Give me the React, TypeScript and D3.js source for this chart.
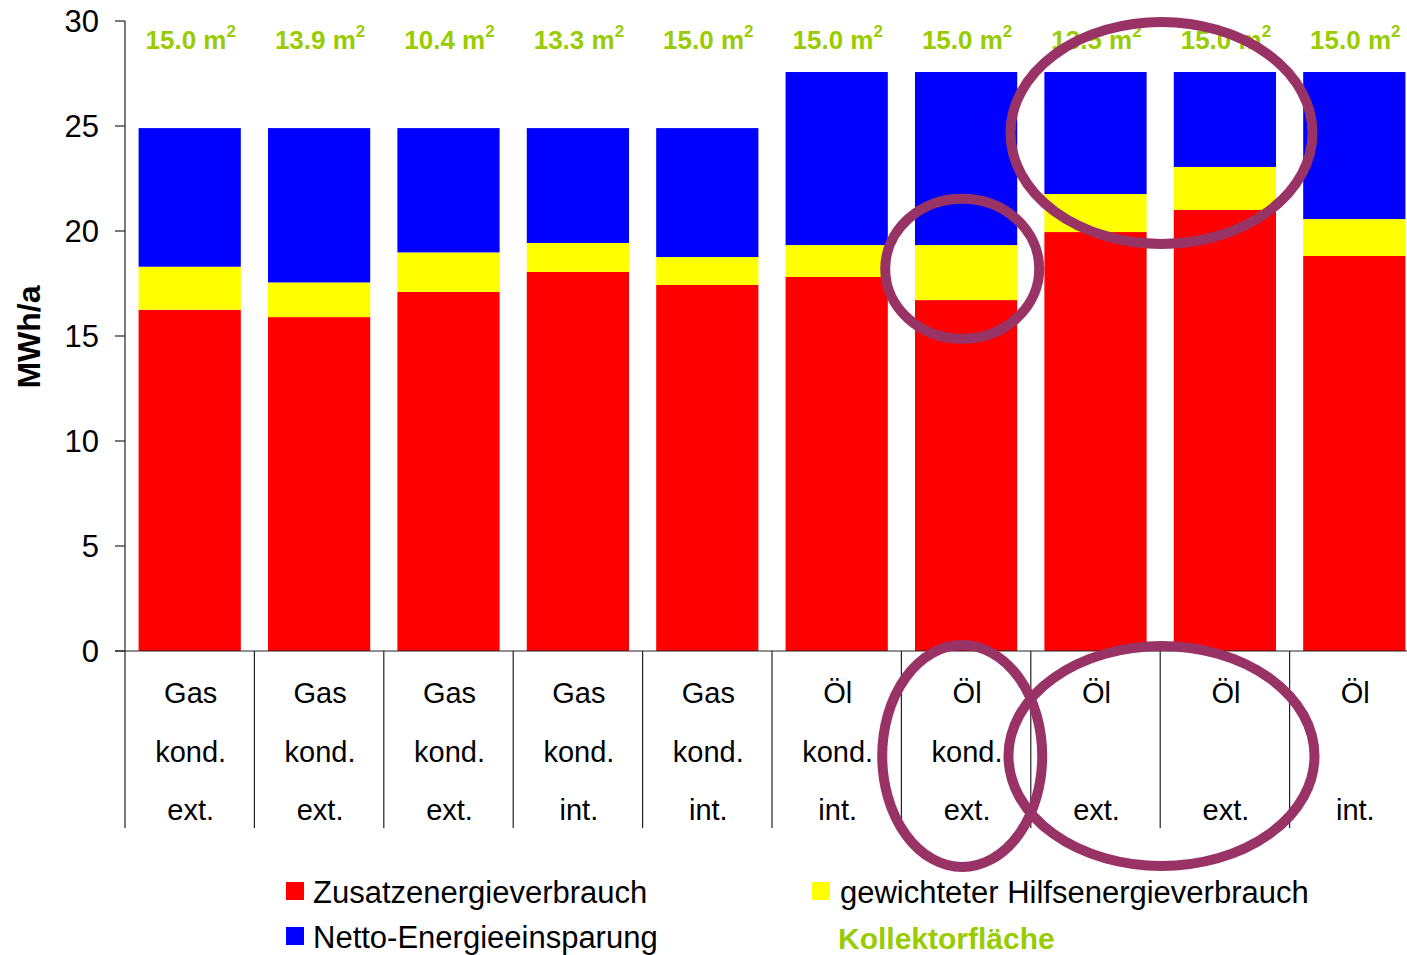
import * as d3 from 'd3';

const FUEL = ['Gas', 'Gas', 'Gas', 'Gas', 'Gas', 'Öl', 'Öl', 'Öl', 'Öl', 'Öl'];
const KOND = ['kond.', 'kond.', 'kond.', 'kond.', 'kond.', 'kond.', 'kond.', '', '', ''];
const MOUNT = ['ext.', 'ext.', 'ext.', 'int.', 'int.', 'int.', 'ext.', 'ext.', 'ext.', 'int.'];
const AREA = ['15.0', '13.9', '10.4', '13.3', '15.0', '15.0', '15.0', '13.5', '15.0', '15.0'];

const ZUSATZ = [16.25, 15.9, 17.1, 18.05, 17.43, 17.81, 16.71, 19.95, 21.0, 18.81];
const HILFS = [2.05, 1.65, 1.88, 1.38, 1.33, 1.52, 2.62, 1.81, 2.05, 1.76];
const NETTO = [6.6, 7.35, 5.92, 5.47, 6.14, 8.24, 8.24, 5.81, 4.52, 7.0];

const Y_TICKS = [0, 5, 10, 15, 20, 25, 30];

const SERIES = [
  { name: 'Zusatzenergieverbrauch', values: ZUSATZ, color: '#ff0000' },
  { name: 'gewichteter Hilfsenergieverbrauch', values: HILFS, color: '#ffff00' },
  { name: 'Netto-Energieeinsparung', values: NETTO, color: '#0000ff' },
];

// highlight ellipses: position along the category axis (in bands) and value
const RINGS = [
  { pos: 6.47, value: 18.2, rx: 77, ry: 70 },
  { pos: 8.01, value: 24.67, rx: 151, ry: 111 },
];
const LABEL_RINGS = [
  { pos: 6.47, rx: 80, ry: 111 },
  { pos: 8.01, rx: 153, ry: 110 },
];

const W = 1407;
const H = 955;
const M = { top: 21, left: 125, bottom: 651 };
const FONT = 'Liberation Sans, Arial, sans-serif';

export default function App() {
  const idx = d3.range(FUEL.length).map(String);
  const x = d3.scaleBand().domain(idx).range([M.left, M.left + 10 * 129.4]).padding(0);
  const step = x.step();
  const bw = step * 0.79;
  const y = d3.scaleLinear().domain([0, 30]).range([M.bottom, M.top]);
  const posX = (p: number) => M.left + p * step;

  const stacked = d3.stack<number>()
    .keys(SERIES.map((_, i) => String(i)))
    .value((d, k) => SERIES[+k].values[d])(d3.range(FUEL.length));

  const labelBottom = 828;
  const rowY = [703, 762, 820];

  return (
    <svg width={W} height={H} style={{ position: 'absolute', left: 0, top: 0, background: '#fff' }} fontFamily={FONT}>
      {/* bars */}
      {stacked.map((layer, si) => (
        <g key={si} fill={SERIES[si].color}>
          {layer.map((d, i) => (
            <rect key={i} x={x(String(i))! + (step - bw) / 2} y={y(d[1])} width={bw} height={y(d[0]) - y(d[1])} />
          ))}
        </g>
      ))}

      {/* y axis */}
      <line x1={M.left} x2={M.left} y1={M.top} y2={labelBottom} stroke="#222" strokeWidth={1.2} />
      {Y_TICKS.map(t => (
        <g key={t}>
          <line x1={M.left - 10} x2={M.left} y1={y(t)} y2={y(t)} stroke="#222" strokeWidth={1.2} />
          <text x={M.left - 26} y={y(t) + 11} textAnchor="end" fontSize={31} fill="#000">{t}</text>
        </g>
      ))}
      <text transform={`translate(40,${y(15) + 1}) rotate(-90)`} textAnchor="middle" fontSize={32} fontWeight="bold">MWh/a</text>

      {/* x axis + category dividers */}
      <line x1={M.left - 10} x2={W} y1={y(0)} y2={y(0)} stroke="#222" strokeWidth={1.2} />
      {idx.map(k => (
        <line key={k} x1={x(k)! + step} x2={x(k)! + step} y1={y(0)} y2={labelBottom} stroke="#222" strokeWidth={1.2} />
      ))}
      {idx.map((k, i) => (
        <g key={k} fontSize={29} textAnchor="middle">
          {[FUEL[i], KOND[i], MOUNT[i]].map((s, r) => (
            <text key={r} x={x(k)! + step / 2 + 1} y={rowY[r]}>{s}</text>
          ))}
        </g>
      ))}

      {/* collector area labels */}
      {idx.map((k, i) => (
        <text key={k} x={x(k)! + step / 2 + 1} y={49} textAnchor="middle" fontSize={26} fontWeight="bold" fill="#99cc00">
          {AREA[i]} m<tspan fontSize={17} dy={-12}>2</tspan>
        </text>
      ))}

      {/* legend */}
      <rect x={286} y={882} width={18} height={18} fill={SERIES[0].color} />
      <text x={313} y={903} fontSize={31}>{SERIES[0].name}</text>
      <rect x={286} y={927} width={18} height={18} fill={SERIES[2].color} />
      <text x={313} y={948} fontSize={31}>{SERIES[2].name}</text>
      <rect x={812} y={882} width={18} height={18} fill={SERIES[1].color} />
      <text x={840} y={903} fontSize={31}>{SERIES[1].name}</text>
      <text x={838} y={949} fontSize={30} fontWeight="bold" fill="#99cc00">Kollektorfläche</text>

      {/* highlight rings */}
      {RINGS.map((r, i) => (
        <ellipse key={i} cx={posX(r.pos)} cy={y(r.value)} rx={r.rx} ry={r.ry} fill="none" stroke="#993366" strokeWidth={10} />
      ))}
      {LABEL_RINGS.map((r, i) => (
        <ellipse key={i} cx={posX(r.pos)} cy={756} rx={r.rx} ry={r.ry} fill="none" stroke="#993366" strokeWidth={10} />
      ))}
    </svg>
  );
}
